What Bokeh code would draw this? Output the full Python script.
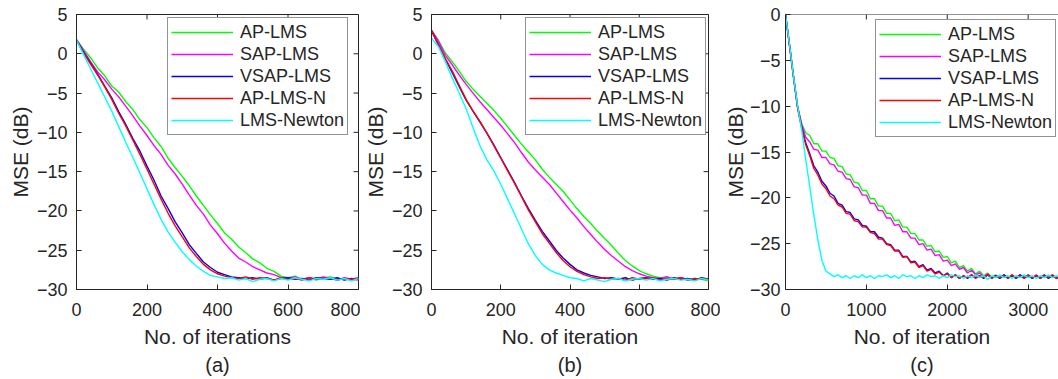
from bokeh.plotting import figure
from bokeh.models import Range1d, Legend, LegendItem, FixedTicker, Title, Span, Spacer
from bokeh.layouts import row
from bokeh.embed import file_html
from bokeh.resources import INLINE

FONT = "Liberation Sans"
AX = "#262626"

names = ["AP-LMS", "SAP-LMS", "VSAP-LMS", "AP-LMS-N", "LMS-Newton"]
colors = ["#00ff00", "#ff00ff", "#0000ff", "#ff0000", "#00ffff"]

# ---------------- panel (a) ----------------
x_a = list(range(0, 801, 20))
a_ap = [1.8, 0.6, -0.5, -1.8, -2.8, -4.1, -4.9, -6.1, -7.1, -8.4, -9.4, -10.7, -11.8, -13.3, -14.5, -15.6,
        -16.8, -18.1, -19.3, -20.5, -21.6, -22.8, -23.6, -24.6, -25.3, -26.1, -26.6, -27.3, -27.7, -28.3,
        -28.5, -28.3, -28.7, -28.5, -28.8, -28.5, -28.4, -28.7, -28.6, -28.8, -28.6]
a_sap = [1.8, 0.4, -1.0, -2.3, -3.3, -4.5, -5.5, -6.7, -7.9, -9.2, -10.4, -11.7, -12.8, -14.2, -15.3, -16.6,
         -18.0, -19.3, -20.4, -21.8, -22.9, -24.1, -25.1, -26.0, -26.5, -27.1, -27.5, -27.9, -28.1, -28.5,
         -28.6, -28.4, -28.7, -28.5, -28.7, -28.4, -28.6, -28.8, -28.5, -28.7, -28.8]
a_vsap = [1.7, 0.2, -1.2, -2.6, -4.1, -5.6, -7.4, -9.0, -10.8, -12.4, -14.3, -16.1, -18.1, -19.7, -21.4, -22.8,
          -24.3, -25.4, -26.5, -27.2, -27.8, -28.1, -28.4, -28.5, -28.6, -28.5, -28.7, -28.5, -28.8, -28.6,
          -28.5, -28.7, -28.6, -28.8, -28.5, -28.6, -28.7, -28.5, -28.8, -28.6, -28.7]
a_apn = [1.7, 0.1, -1.3, -2.7, -4.2, -5.8, -7.6, -9.2, -11.0, -12.8, -14.7, -16.6, -18.5, -20.3, -21.9, -23.3,
         -24.7, -25.8, -26.8, -27.5, -28.0, -28.3, -28.5, -28.6, -28.4, -28.7, -28.5, -28.6, -28.8, -28.5,
         -28.7, -28.6, -28.8, -28.5, -28.7, -28.6, -28.5, -28.8, -28.6, -28.7, -28.5]
a_newton = [1.7, -0.1, -1.9, -3.7, -5.5, -7.3, -9.3, -11.3, -13.2, -15.2, -17.2, -19.2, -21.1, -22.7, -24.0,
            -25.2, -26.2, -27.0, -27.7, -28.2, -28.4, -28.6, -28.5, -28.8, -28.6, -29.0, -28.7, -28.6, -28.9,
            -28.6, -28.8, -28.5, -28.7, -28.9, -28.6, -28.7, -28.5, -28.8, -28.6, -28.9, -28.6]

# ---------------- panel (b) ----------------
x_b = list(range(0, 801, 20))
b_ap = [3.0, 1.7, 0.1, -1.0, -2.2, -3.5, -4.5, -5.4, -6.3, -7.2, -8.2, -9.3, -10.4, -11.5, -12.5, -13.5,
        -14.7, -15.7, -16.6, -17.5, -18.6, -19.7, -20.7, -21.6, -22.6, -23.5, -24.4, -25.4, -26.3, -27.0,
        -27.6, -28.0, -28.3, -28.5, -28.4, -28.7, -28.5, -28.8, -28.6, -28.7, -28.9]
b_sap = [3.0, 1.6, -0.2, -1.4, -2.7, -3.9, -5.0, -6.1, -7.1, -8.1, -9.1, -10.2, -11.3, -12.6, -13.8, -14.8,
         -15.7, -16.6, -17.7, -18.8, -19.9, -20.9, -22.0, -23.0, -24.0, -24.9, -25.7, -26.4, -27.1, -27.6,
         -28.0, -28.3, -28.5, -28.6, -28.4, -28.7, -28.5, -28.7, -28.8, -28.6, -28.7]
b_vsap = [2.9, 1.2, -0.7, -2.4, -4.2, -5.9, -7.3, -8.7, -10.1, -11.6, -13.2, -14.8, -16.4, -18.1, -19.7, -21.2,
          -22.6, -23.8, -25.0, -26.0, -26.8, -27.5, -27.9, -28.2, -28.4, -28.6, -28.5, -28.7, -28.5, -28.8,
          -28.6, -28.5, -28.7, -28.6, -28.8, -28.5, -28.7, -28.6, -28.8, -28.5, -28.7]
b_apn = [2.9, 1.1, -0.6, -2.2, -4.0, -5.8, -7.3, -8.6, -10.1, -11.7, -13.3, -14.9, -16.5, -18.2, -19.9, -21.4,
         -22.9, -24.1, -25.3, -26.3, -27.1, -27.7, -28.1, -28.4, -28.6, -28.5, -28.7, -28.6, -28.8, -28.5,
         -28.7, -28.6, -28.5, -28.8, -28.6, -28.7, -28.5, -28.8, -28.6, -28.7, -28.6]
b_newton = [2.0, 0.9, -1.0, -3.1, -5.0, -7.0, -9.4, -11.7, -13.5, -14.9, -16.6, -18.5, -20.4, -22.3, -24.2,
            -25.7, -26.8, -27.5, -27.9, -28.2, -28.5, -28.6, -28.9, -28.6, -28.8, -29.0, -28.7, -28.6, -28.9,
            -28.7, -28.6, -28.8, -28.6, -28.9, -28.7, -28.6, -28.8, -28.7, -28.9, -28.6, -28.8]

# ---------------- panel (c) ----------------
x_c = list(range(0, 3401, 50))
c_ap = [0.0, -3.3, -6.8, -10.1, -11.9, -12.9, -13.2, -14.1, -14.1, -14.9, -14.9, -15.6, -15.7, -16.5, -16.6,
        -17.4, -17.5, -18.3, -18.4, -19.2, -19.2, -20.1, -20.1, -20.9, -20.9, -21.7, -21.7, -22.5, -22.4,
        -23.2, -23.2, -23.9, -23.9, -24.6, -24.6, -25.3, -25.2, -25.9, -25.8, -26.5, -26.4, -27.1, -26.9,
        -27.6, -27.4, -28.0, -27.7, -28.3, -28.0, -28.5, -28.2, -28.7, -28.4, -28.8, -28.5, -28.7, -28.4,
        -28.8, -28.5, -28.7, -28.4, -28.8, -28.5, -28.8, -28.5, -28.7, -28.4, -28.8, -28.5]
c_sap = [0.0, -3.3, -6.8, -10.0, -12.0, -13.4, -13.9, -14.7, -14.8, -15.6, -15.6, -16.3, -16.4, -17.1, -17.2,
         -17.9, -18.0, -18.8, -18.9, -19.7, -19.7, -20.6, -20.6, -21.4, -21.4, -22.2, -22.2, -23.0, -22.9,
         -23.7, -23.7, -24.4, -24.4, -25.1, -25.0, -25.7, -25.6, -26.3, -26.2, -26.9, -26.8, -27.4, -27.2,
         -27.8, -27.6, -28.2, -27.9, -28.4, -28.2, -28.6, -28.3, -28.8, -28.5, -28.7, -28.4, -28.8, -28.5,
         -28.7, -28.4, -28.8, -28.5, -28.7, -28.4, -28.8, -28.5, -28.7, -28.5, -28.8, -28.6]
c_vsap = [0.0, -3.4, -6.9, -10.2, -12.3, -14.0, -15.2, -16.5, -17.2, -18.2, -18.7, -19.5, -19.8, -20.6, -20.8,
          -21.5, -21.6, -22.3, -22.4, -23.0, -23.1, -23.7, -23.7, -24.3, -24.4, -25.0, -25.1, -25.7, -25.7,
          -26.4, -26.4, -27.0, -26.9, -27.5, -27.3, -27.9, -27.7, -28.2, -28.0, -28.5, -28.2, -28.7, -28.4,
          -28.8, -28.5, -28.8, -28.4, -28.7, -28.5, -28.8, -28.4, -28.7, -28.5, -28.8, -28.4, -28.7, -28.5,
          -28.8, -28.4, -28.7, -28.5, -28.8, -28.5, -28.7, -28.4, -28.8, -28.5, -28.7, -28.5]
c_apn = [0.0, -3.4, -6.9, -10.2, -12.4, -14.2, -15.4, -16.8, -17.5, -18.5, -19.0, -19.8, -20.1, -20.8, -21.0,
         -21.7, -21.8, -22.5, -22.6, -23.2, -23.2, -23.8, -23.9, -24.5, -24.5, -25.1, -25.2, -25.8, -25.8,
         -26.5, -26.4, -27.1, -27.0, -27.6, -27.4, -28.0, -27.8, -28.3, -28.1, -28.5, -28.3, -28.7, -28.4,
         -28.8, -28.5, -28.7, -28.4, -28.8, -28.5, -28.7, -28.4, -28.8, -28.5, -28.7, -28.5, -28.8, -28.4,
         -28.7, -28.5, -28.8, -28.4, -28.7, -28.5, -28.8, -28.5, -28.7, -28.4, -28.8, -28.5]
c_newton = [0.0, -3.3, -6.8, -10.0, -12.6, -15.8, -18.8, -21.8, -24.6, -26.8, -28.0, -28.3, -28.6, -28.4, -28.7,
            -28.5, -28.8, -28.5, -28.7, -28.4, -28.7, -28.5, -28.8, -28.5, -28.6, -28.4, -28.7, -28.5, -28.8,
            -28.4, -28.6, -28.5, -28.8, -28.5, -28.7, -28.4, -28.6, -28.5, -28.8, -28.5, -28.7, -28.4, -28.6,
            -28.5, -28.8, -28.5, -28.7, -28.4, -28.7, -28.5, -28.9, -28.5, -28.7, -28.4, -28.7, -28.5, -28.8,
            -28.5, -28.7, -28.4, -28.7, -28.5, -28.8, -28.5, -28.7, -28.4, -28.7, -28.5, -28.7]

ticks_ab_x = [0, 200, 400, 600, 800]
ticks_c_x = [0, 1000, 2000, 3000]
ticks_ab_y = [-30, -25, -20, -15, -10, -5, 0, 5]
ticks_c_y = [-30, -25, -20, -15, -10, -5, 0]

TICK_PX = 5


def panel(width, bl, br, xr, yr, xt, yt, xlabel, tag, xs, ys_list, legend_xy,
          ytick_standoff, ylab_standoff, right_box=True):
    frame_w = width - bl - br
    frame_h = 379 - 14 - 90
    p = figure(width=width, height=379, output_backend="svg", toolbar_location=None,
               x_range=Range1d(*xr), y_range=Range1d(*yr),
               min_border_left=bl, min_border_right=br, min_border_top=14, min_border_bottom=90)
    p.background_fill_color = "white"
    p.border_fill_color = "white"
    p.xgrid.visible = False
    p.ygrid.visible = False
    p.outline_line_color = AX if right_box else None

    xa = p.xaxis[0]
    ya = p.yaxis[0]
    xa.ticker = FixedTicker(ticks=xt)
    ya.ticker = FixedTicker(ticks=yt)
    for ax in (xa, ya):
        ax.axis_line_color = AX
        ax.major_tick_line_color = AX
        ax.major_tick_in = TICK_PX
        ax.major_tick_out = 0
        ax.minor_tick_line_color = None
        ax.major_label_text_font = FONT
        ax.major_label_text_color = AX
        ax.major_label_text_font_size = "18px"
        ax.axis_label_text_font = FONT
        ax.axis_label_text_font_size = "21px"
        ax.axis_label_text_font_style = "normal"
        ax.axis_label_text_color = AX
    xa.major_label_standoff = 13
    ya.major_label_standoff = ytick_standoff
    xa.axis_label = xlabel
    ya.axis_label = "MSE (dB)"
    xa.axis_label_standoff = 6
    ya.axis_label_standoff = ylab_standoff

    # box ticks on the top (and right) edges, placed at the tick values
    dy = (yr[1] - yr[0]) / frame_h * TICK_PX
    dx = (xr[1] - xr[0]) / frame_w * TICK_PX
    p.segment(x0=xt, y0=[yr[1]] * len(xt), x1=xt, y1=[yr[1] - dy] * len(xt), line_color=AX, line_width=1)
    if right_box:
        p.segment(x0=[xr[1]] * len(yt), y0=yt, x1=[xr[1] - dx] * len(yt), y1=yt, line_color=AX, line_width=1)
    else:
        p.add_layout(Span(location=yr[1], dimension="width", line_color=AX, line_width=1))

    rends = []
    for ys, c in zip(ys_list, colors):
        rends.append(p.line(xs, ys, line_color=c, line_width=1.4))

    items = [LegendItem(label=n, renderers=[r]) for n, r in zip(names, rends)]
    leg = Legend(items=items, location=legend_xy, margin=0, padding=3, spacing=0,
                 glyph_width=62, glyph_height=22, label_standoff=7, label_height=22,
                 label_text_font=FONT, label_text_font_size="18px", label_text_color=AX,
                 border_line_color=AX, border_line_width=1,
                 background_fill_color="white", background_fill_alpha=1.0)
    p.add_layout(leg)

    t = Title(text=tag, align="center", text_font=FONT, text_font_size="20px",
              text_font_style="normal", text_color=AX, standoff=2)
    p.add_layout(t, "below")
    return p


# canvas spans: spacer 0-5, (a) 5-360, (b) 360-720, (c) 720-1058
p1 = panel(355, 71, 2, (0, 800), (-30, 5), ticks_ab_x, ticks_ab_y, "No. of iterations", "(a)",
           x_a, [a_ap, a_sap, a_vsap, a_apn, a_newton], (91, 154), 9, 2)
p2 = panel(360, 66, 12, (0, 800), (-30, 5), ticks_ab_x, ticks_ab_y, "No. of iteration", "(b)",
           x_b, [b_ap, b_sap, b_vsap, b_apn, b_newton], (94, 154), 9, 2)
p3 = panel(338, 63, 0, (0, 3375), (-30, 0), ticks_c_x, ticks_c_y, "No. of iteration", "(c)",
           x_c, [c_ap, c_sap, c_vsap, c_apn, c_newton], (90, 152), 5, 0, right_box=False)

layout = row(Spacer(width=5, height=379), p1, p2, p3, spacing=0)
open("out.html", "w").write(file_html(layout, INLINE))
